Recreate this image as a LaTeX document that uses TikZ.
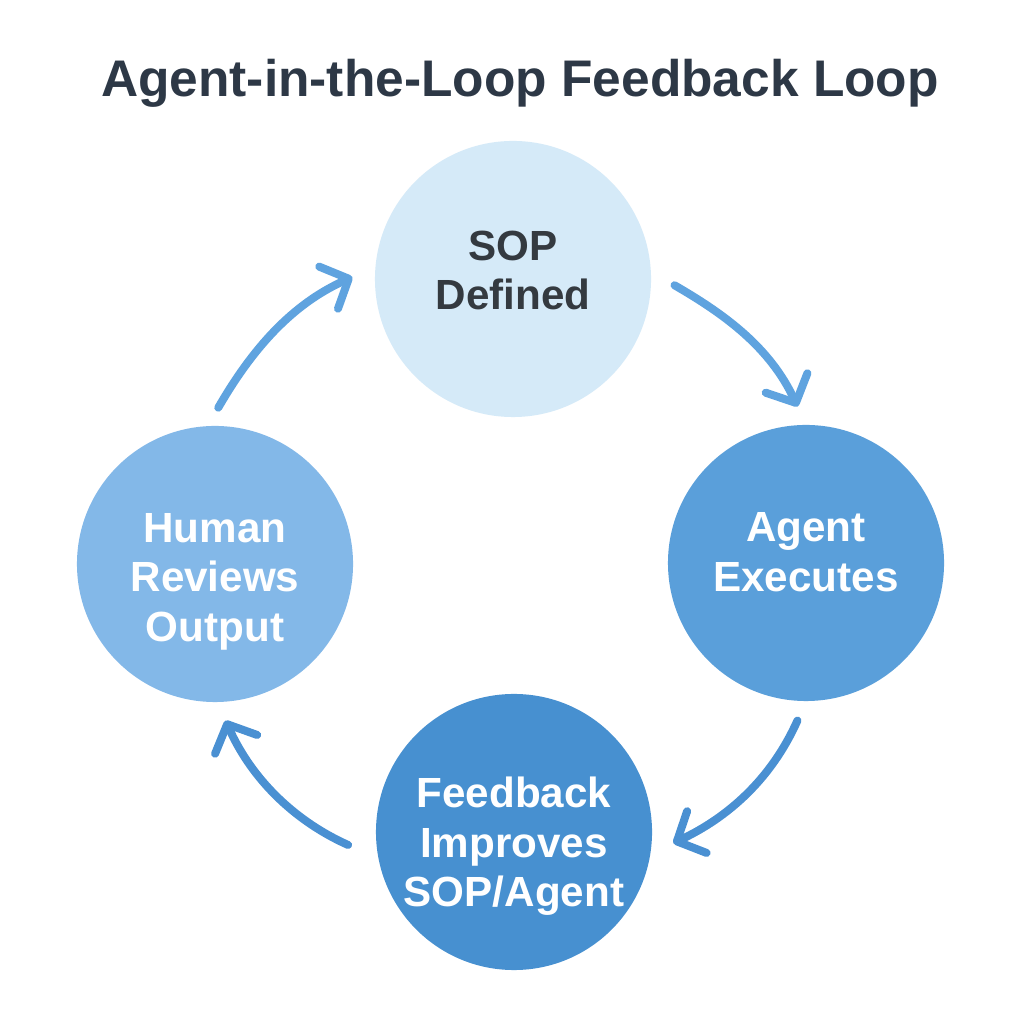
\documentclass[tikz,border=0pt]{standalone}
\usepackage{fontspec}
\setmainfont{Liberation Sans}
\usetikzlibrary{arrows.meta}
\begin{document}
\begin{tikzpicture}[x=0.025cm,y=0.025cm,
    stage/.style={circle, minimum size=6.9cm, inner sep=0pt, align=center,
        font=\fontsize{30}{35}\selectfont\bfseries},
    flow/.style={line width=0.2cm, line cap=round,
        -{Straight Barb[length=0.55cm, width=1.15cm, line cap=round, line join=round]}}]
    % \clip (0,0) rectangle (1024,1024);
    \fill[white] (0,0) rectangle (1024,1024);
    \useasboundingbox (0,0) rectangle (1024,1024);

    % Changing colors
    \definecolor{titlegray}{HTML}{2D3846}%
    \definecolor{textgray}{HTML}{343A40}%
    \definecolor{sopblue}{HTML}{D5EAF8}%
    \definecolor{agentblue}{HTML}{5A9FDA}%
    \definecolor{feedblue}{HTML}{4790D0}%
    \definecolor{humanblue}{HTML}{83B8E8}%
    \definecolor{arrowlight}{HTML}{5FA3DF}%
    \definecolor{arrowdark}{HTML}{4A90D2}%

    % Drawing title
    \node[anchor=base, text=titlegray, font=\fontsize{36.6}{44}\selectfont\bfseries] (title) at (520,927) {Agent-in-the-Loop Feedback Loop};

    % Drawing stages
    \node[stage, fill=sopblue, text=textgray] (sop) at (513,745) {SOP\\Defined\rule[-12.8pt]{0pt}{0pt}};
    \node[stage, fill=agentblue, text=white] (agent) at (806,461) {Agent\\Executes\rule[-15.6pt]{0pt}{0pt}};
    \node[stage, fill=feedblue, text=white] (feedback) at (514,192) {\rule{0pt}{42pt}Feedback\\Improves\\SOP/Agent};
    \node[stage, fill=humanblue, text=white] (human) at (215,460) {\rule{0pt}{46pt}Human\\Reviews\\Output};

    % Drawing loop arrows
    \draw[flow, arrowlight, shorten <=0.525cm, shorten >=0.625cm] (human.93.5) to[out=60, in=204] (sop.175);
    \draw[flow, arrowlight, shorten <=0.675cm, shorten >=0.5cm] (sop.3) to[out=-30, in=115] (agent.90);
    \draw[flow, arrowdark, shorten <=0.525cm, shorten >=0.625cm] (agent.270) to[out=-114, in=25] (feedback.351);
    \draw[flow, arrowdark, shorten <=0.825cm, shorten >=0.5cm] (feedback.191) to[out=156, in=-66] (human.271);
\end{tikzpicture}
\end{document}
